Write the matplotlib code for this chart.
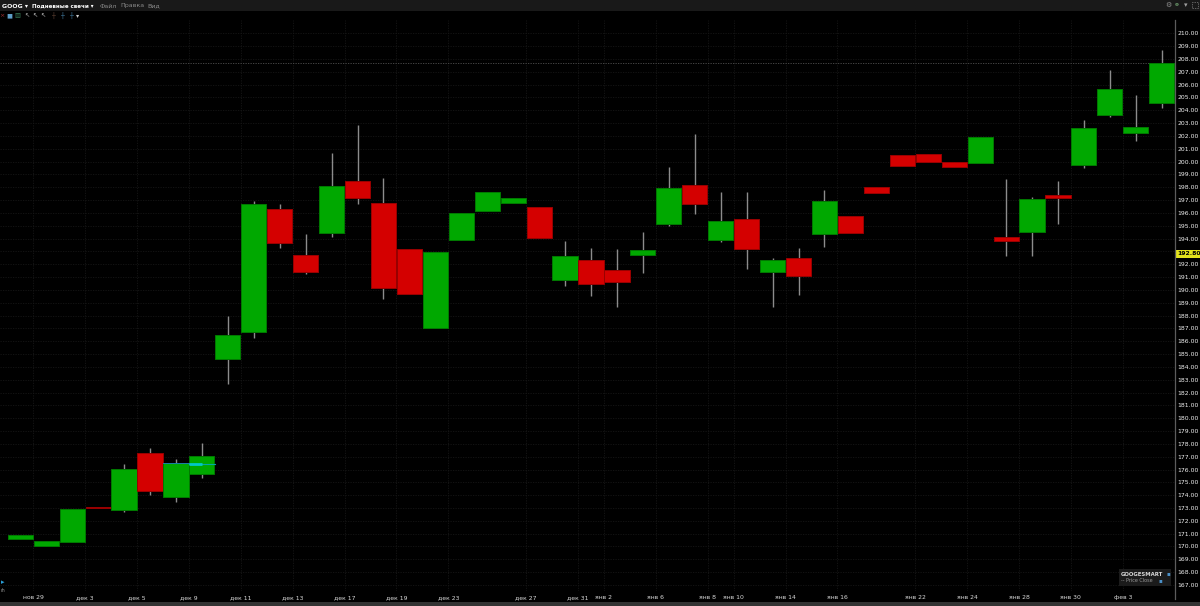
import matplotlib
matplotlib.use('Agg')
import matplotlib.pyplot as plt
from matplotlib.lines import Line2D
from matplotlib.patches import Rectangle

# daily candles
opens = [170.58, 170.05, 170.33, 173.05, 172.82, 177.31, 173.88, 175.67, 184.61, 186.74,
         196.31, 192.72, 194.41, 198.51, 196.77, 193.16, 187.01, 193.91, 196.17, 196.75,
         196.46, 190.77, 192.33, 191.57, 192.72, 195.16, 198.15, 193.91, 195.55, 191.37,
         192.49, 194.38, 195.78, 198.04, 200.51, 200.57, 199.97, 199.87, 194.12, 194.49,
         197.40, 199.76, 203.61, 202.23, 204.54]
highs = [170.86, 170.44, 172.93, 173.05, 176.43, 177.65, 176.82, 178.04, 187.99, 196.91,
         196.70, 194.36, 200.65, 202.88, 198.70, 193.16, 192.95, 195.99, 197.61, 197.14,
         196.46, 193.79, 193.27, 193.16, 194.49, 199.56, 202.15, 197.63, 197.63, 192.49,
         193.27, 197.79, 195.78, 198.04, 200.51, 200.57, 199.97, 201.92, 198.62, 197.22,
         198.46, 203.24, 207.12, 205.19, 208.70]
lows = [170.58, 170.05, 170.33, 173.02, 172.71, 173.99, 173.49, 175.36, 182.67, 186.25,
        193.27, 191.26, 194.10, 196.67, 189.27, 189.70, 187.01, 193.91, 196.17, 196.75,
        194.07, 190.33, 189.55, 188.69, 191.34, 195.00, 195.94, 193.76, 191.61, 188.64,
        189.60, 193.32, 194.41, 197.58, 199.63, 199.99, 199.60, 199.87, 192.64, 192.62,
        195.14, 199.48, 203.50, 201.63, 204.20]
closes = [170.86, 170.44, 172.93, 173.02, 176.06, 174.30, 176.51, 177.08, 186.51, 196.70,
          193.63, 191.37, 198.12, 197.14, 190.17, 189.70, 192.95, 195.99, 197.61, 197.14,
          194.07, 192.67, 190.44, 190.62, 193.11, 197.92, 196.72, 195.37, 193.19, 192.31,
          191.06, 196.95, 194.41, 197.58, 199.63, 199.99, 199.60, 201.92, 193.79, 197.06,
          197.19, 202.62, 205.64, 202.67, 207.69]

date_ticks = [1, 3, 5, 7, 9, 11, 13, 15, 17, 20, 22, 23, 25, 27, 28, 30, 32, 35, 37, 39, 41, 43]
date_labels = ['нов 29', 'дек 3', 'дек 5', 'дек 9', 'дек 11', 'дек 13', 'дек 17', 'дек 19',
               'дек 23', 'дек 27', 'дек 31', 'янв 2', 'янв 6', 'янв 8', 'янв 10', 'янв 14',
               'янв 16', 'янв 22', 'янв 24', 'янв 28', 'янв 30', 'фев 3']
price_ticks = list(range(167, 211))
last_price = 192.80
ref_price = 207.72

GREEN = '#00a800'
RED = '#d40000'
TEXT = '#d8d8d8'
W, H = 1200, 606

fig = plt.figure(figsize=(12, 6.06), dpi=100, facecolor='black')
ax = fig.add_axes([0, 15 / H, 1174.7 / W, 571 / H], facecolor='black')


def px(x, y):
    return x / W, 1 - y / H


# wicks first so the bodies sit on top
for i in range(len(opens)):
    ax.plot([i, i], [lows[i], highs[i]], color='#8c8c8c', lw=1.0, zorder=2, solid_capstyle='butt')
for i in range(len(opens)):
    up = closes[i] >= opens[i]
    ax.bar(i, closes[i] - opens[i], bottom=opens[i], width=0.97, zorder=3,
           color=GREEN if up else RED, edgecolor='#007a00' if up else '#9a0000', linewidth=0.7)

ax.axhline(ref_price, color='#505050', lw=0.6, ls=(0, (1.5, 1.5)), zorder=1)

# cyan drawing around the 9 dec candle
ax.plot([5.5, 6.5], [176.5, 176.5], color='#1a7fa8', lw=0.7, zorder=4)
ax.plot([6.5, 7.5], [176.42, 176.42], color='#00a8a8', lw=0.8, zorder=4)
ax.plot([6.5, 7.0], [176.42, 176.42], color='#00c8c8', lw=2.0, zorder=4, solid_capstyle='butt')

ax.set_xlim(-0.783, 44.5)
ax.set_ylim(166.53, 211.04)
ax.set_xticks([t - 0.5 for t in date_ticks])
ax.set_xticklabels(date_labels)
ax.set_yticks(price_ticks)
# the last price tag covers the 193 label
ax.set_yticklabels(['' if p == 193 else '%.2f' % p for p in price_ticks])
ax.yaxis.tick_right()
ax.tick_params(axis='x', length=0, pad=3, labelsize=4.4, labelcolor=TEXT)
ax.tick_params(axis='y', length=0, pad=2, labelsize=4.4, labelcolor='#f0f0f0')
ax.grid(True, color='#161616', lw=0.6, ls=(0, (1.5, 1.5)), zorder=0)
ax.set_axisbelow(True)
for s in ax.spines.values():
    s.set_visible(False)

# price axis line runs a bit below the plot
fig.add_artist(Line2D([1174.7 / W] * 2, [1 - 20 / H, 1 - 599 / H], color='#5c5c5c', lw=0.9))

# last price tag
ax.text(1.002, last_price, '%.2f' % last_price, transform=ax.get_yaxis_transform(), clip_on=False,
        ha='left', va='center', fontsize=4.4, color='black', fontweight='bold', zorder=6,
        bbox=dict(boxstyle='square,pad=0.3', fc='#e4e41c', ec='none'))

# title bar and bottom bar
fig.add_artist(Rectangle((0, 1 - 11 / H), 1, 11 / H, transform=fig.transFigure, color='#191919', lw=0))
fig.add_artist(Rectangle((0, 0), 1, 4 / H, transform=fig.transFigure, color='#333333', lw=0))

bar_items = [(2, 'GOOG ▾', 'white', 'bold', 4.5), (32, 'Подневные свечи ▾', 'white', 'bold', 4.0),
             (100, 'Файл', '#8a8a8a', 'normal', 4.5), (120, 'Правка', '#8a8a8a', 'normal', 4.5),
             (147, 'Вид', '#8a8a8a', 'normal', 4.5)]
for x, label, col, weight, size in bar_items:
    fig.text(*px(x, 6), label, color=col, fontsize=size, fontweight=weight, va='center', ha='left')

tool_items = [(2, '×', '#a03030'), (9, '■', '#5f9fc8'), (17, '▥', '#3a7f5a'), (27, '↖', '#b0b0b0'),
              (35, '↖', '#c0c0c0'), (43, '↖', '#c0c0c0'), (53, '┼', '#6a4a3a'), (62, '┼', '#4a88b0'),
              (71, '┼', '#4a88b0'), (78, '▾', '#d0d0d0')]
for x, label, col in tool_items:
    fig.text(*px(x, 15.5), label, color=col, fontsize=4.5, va='center', ha='center')

right_items = [(1168, '⚙', '#909090'), (1177, '⚭', '#6f9f6f'), (1186, '▾', '#a0a0a0')]
for x, label, col in right_items:
    fig.text(*px(x, 5), label, color=col, fontsize=5, va='center', ha='center')
# full screen icon, no installed font has it
fig.add_artist(Rectangle(px(1192, 8), 6 / W, 6 / H, transform=fig.transFigure, fill=False,
                         ec='#808080', lw=0.5, ls=(0, (2, 1.5))))

# study legend box
fig.add_artist(Rectangle(px(1119, 586), 52 / W, 17.5 / H, transform=fig.transFigure, color='#1b1b1b', lw=0, zorder=5))
fig.text(*px(1121, 574), 'GOOGESMART', color='#d8d8d8', fontsize=3.9, fontweight='bold', va='center', zorder=6)
fig.text(*px(1168, 574), '▪', color='#4a90c8', fontsize=4, va='center', ha='center', zorder=6)
fig.text(*px(1121, 581), '-- Price Close', color='#9a9a9a', fontsize=3.5, va='center', zorder=6)
fig.text(*px(1160, 581), '▪', color='#4a90c8', fontsize=4, va='center', ha='center', zorder=6)

# little marks at the lower left
fig.text(*px(3, 582), '▸', color='#2a9fd8', fontsize=5, va='center', ha='center')
fig.text(*px(3, 590), 'ıh', color='#909090', fontsize=3.6, va='center', ha='center')

fig.savefig('out.png', dpi=100, facecolor='black')
